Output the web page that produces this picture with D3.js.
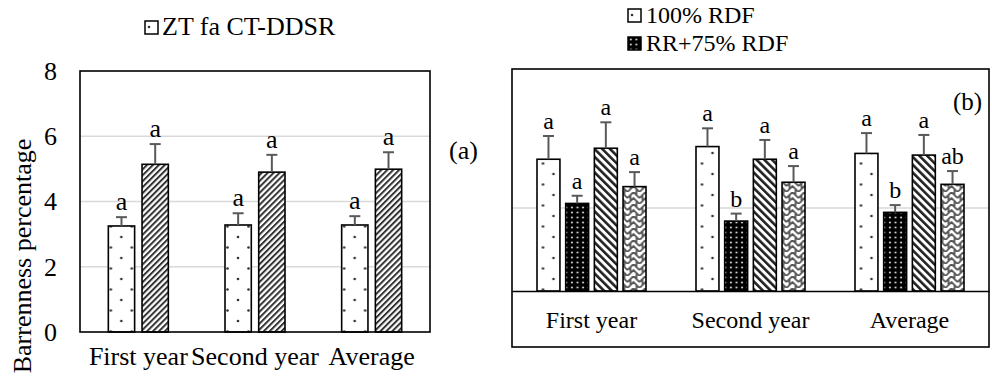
<!DOCTYPE html>
<html lang="en">
    <head>
        <meta charset="UTF-8" />
        <title>Barrenness</title>
        <script src="https://d3js.org/d3.v7.js"></script>
    </head>

    <body>
        <div id="dataviz"></div>
    </body>

    <script>
        // panel (a)
        const yearsA = ["First year", "Second year", "Average"];
        const valuesA = [[3.25, 5.14], [3.28, 4.90], [3.28, 4.99]];
        const errorsA = [[0.27, 0.62], [0.36, 0.53], [0.27, 0.52]];
        const lettersA = [["a", "a"], ["a", "a"], ["a", "a"]];
        const legendA = ["ZT fa CT-DDSR"];
        const ticksA = [0, 2, 4, 6, 8];

        // panel (b)
        const yearsB = ["First year", "Second year", "Average"];
        const valuesB = [[6.35, 4.22, 6.88, 5.03], [6.96, 3.37, 6.35, 5.24], [6.63, 3.79, 6.55, 5.14]];
        const errorsB = [[1.12, 0.37, 1.25, 0.70], [0.88, 0.36, 0.93, 0.78], [0.98, 0.35, 0.97, 0.64]];
        const lettersB = [["a", "a", "a", "a"], ["a", "b", "a", "a"], ["a", "b", "a", "ab"]];
        const legendB = ["100% RDF", "RR+75% RDF"];
        const gridB = [4];

        const font = "'Liberation Serif', 'Times New Roman', serif";

        const svg = d3.select("#dataviz")
            .append("svg")
            .attr("width", 992)
            .attr("height", 378)
            .style("font-family", font);

        svg.append("rect").attr("width", 992).attr("height", 378).attr("fill", "white");

        // fill patterns
        const defs = svg.append("defs");

        const pDots = defs.append("pattern").attr("id", "dots")
            .attr("patternUnits", "userSpaceOnUse").attr("width", 21).attr("height", 21);
        pDots.append("rect").attr("width", 21).attr("height", 21).attr("fill", "white");
        pDots.append("circle").attr("cx", 4).attr("cy", 6).attr("r", 1.3).attr("fill", "#333");
        pDots.append("circle").attr("cx", 14.5).attr("cy", 16.5).attr("r", 1.3).attr("fill", "#333");

        const pFwd = defs.append("pattern").attr("id", "fwd")
            .attr("patternUnits", "userSpaceOnUse").attr("width", 4.2).attr("height", 4.2)
            .attr("patternTransform", "rotate(45)");
        pFwd.append("rect").attr("width", 4.2).attr("height", 4.2).attr("fill", "white");
        pFwd.append("rect").attr("width", 2).attr("height", 4.2).attr("fill", "#333");

        const pBlack = defs.append("pattern").attr("id", "blackdots")
            .attr("patternUnits", "userSpaceOnUse").attr("width", 5.6).attr("height", 5);
        pBlack.append("rect").attr("width", 5.6).attr("height", 5).attr("fill", "black");
        pBlack.append("circle").attr("cx", 2.8).attr("cy", 2.5).attr("r", 1.1).attr("fill", "#ccc");

        const pBack = defs.append("pattern").attr("id", "back")
            .attr("patternUnits", "userSpaceOnUse").attr("width", 5.5).attr("height", 5.5)
            .attr("patternTransform", "rotate(-45)");
        pBack.append("rect").attr("width", 5.5).attr("height", 5.5).attr("fill", "white");
        pBack.append("rect").attr("width", 2.6).attr("height", 5.5).attr("fill", "#222");

        // herringbone-like weave
        const pZig = defs.append("pattern").attr("id", "zig")
            .attr("patternUnits", "userSpaceOnUse").attr("width", 12).attr("height", 12);
        pZig.append("rect").attr("width", 12).attr("height", 12).attr("fill", "white");
        pZig.append("path").attr("d", "M0,6 L6,0 L12,6 M0,12 L6,6 L12,12 M3,3 L3,9 M9,-3 L9,3 M9,9 L9,15")
            .attr("fill", "none").attr("stroke", "#555").attr("stroke-width", 1.8);

        const fillsA = ["url(#dots)", "url(#fwd)"];
        const fillsB = ["url(#dots)", "url(#blackdots)", "url(#back)", "url(#zig)"];

        function drawBars(g, years, values, errors, letters, fills, x, x1, y, fontSize) {
            const groups = g.selectAll(".grp")
                .data(years)
                .join("g")
                .attr("transform", d => `translate(${x(d) + x.bandwidth() / 2},0)`);

            groups.each(function(year, i) {
                const row = values[i].map((v, j) => ({ v: v, e: errors[i][j], l: letters[i][j], j: j }));
                const gg = d3.select(this);

                gg.selectAll("rect")
                    .data(row)
                    .join("rect")
                    .attr("x", d => x1(d.j))
                    .attr("y", d => y(d.v))
                    .attr("width", x1.bandwidth())
                    .attr("height", d => y(0) - y(d.v))
                    .attr("fill", d => fills[d.j])
                    .attr("stroke", "black")
                    .attr("stroke-width", 1.6);

                const eb = gg.selectAll(".err")
                    .data(row)
                    .join("g")
                    .attr("stroke", "#595959")
                    .attr("stroke-width", 2);
                eb.append("line")
                    .attr("x1", d => x1(d.j) + x1.bandwidth() / 2)
                    .attr("x2", d => x1(d.j) + x1.bandwidth() / 2)
                    .attr("y1", d => y(d.v))
                    .attr("y2", d => y(d.v + d.e));
                eb.append("line")
                    .attr("x1", d => x1(d.j) + x1.bandwidth() / 2 - 5.5)
                    .attr("x2", d => x1(d.j) + x1.bandwidth() / 2 + 5.5)
                    .attr("y1", d => y(d.v + d.e))
                    .attr("y2", d => y(d.v + d.e));

                gg.selectAll(".lbl")
                    .data(row)
                    .join("text")
                    .attr("x", d => x1(d.j) + x1.bandwidth() / 2)
                    .attr("y", d => y(d.v + d.e) - 7)
                    .attr("text-anchor", "middle")
                    .style("font-size", fontSize + "px")
                    .text(d => d.l);
            });
        }

        // ---------- panel (a) ----------
        const xA = d3.scaleBand().domain(yearsA).range([80, 430]);
        const x1A = d3.scaleBand().domain([0, 1]).range([-30, 30]).paddingInner(0.22);
        const yA = d3.scaleLinear().domain([0, 8]).range([332, 71]);

        const gA = svg.append("g");
        gA.selectAll(".grid")
            .data(ticksA.filter(t => t > 0 && t < 8))
            .join("line")
            .attr("x1", 80).attr("x2", 430)
            .attr("y1", d => yA(d)).attr("y2", d => yA(d))
            .attr("stroke", "#d9d9d9").attr("stroke-width", 1.5);

        const axA = gA.append("g")
            .attr("transform", "translate(80,0)")
            .call(d3.axisLeft(yA).tickValues(ticksA).tickSize(0).tickPadding(23));
        axA.select(".domain").remove();
        axA.selectAll("text").style("font-family", font).style("font-size", "26px").attr("fill", "black");

        const axXA = gA.append("g")
            .attr("transform", "translate(0,332)")
            .call(d3.axisBottom(xA).tickSize(0).tickPadding(15));
        axXA.select(".domain").remove();
        axXA.selectAll("text").style("font-family", font).style("font-size", "26px").attr("fill", "black");

        drawBars(gA, yearsA, valuesA, errorsA, lettersA, fillsA, xA, x1A, yA, 26);

        gA.append("rect")
            .attr("x", 80).attr("y", 71).attr("width", 350).attr("height", 261)
            .attr("fill", "none").attr("stroke", "black").attr("stroke-width", 1.6);

        gA.append("text")
            .attr("transform", "translate(31,256) rotate(-90)")
            .attr("text-anchor", "middle")
            .style("font-size", "26px")
            .text("Barrenness percentage");

        gA.append("text")
            .attr("x", 449).attr("y", 159)
            .style("font-size", "26px")
            .text("(a)");

        const legA = gA.selectAll(".leg")
            .data(legendA)
            .join("g")
            .attr("transform", (d, i) => `translate(145,${21 + i * 28})`);
        legA.append("rect").attr("width", 13).attr("height", 13)
            .attr("fill", (d, i) => fillsA[i]).attr("stroke", "black").attr("stroke-width", 1.5);
        legA.append("text").attr("x", 17).attr("y", 14)
            .style("font-size", "26px").text(d => d);

        // ---------- panel (b) ----------
        const xB = d3.scaleBand().domain(yearsB).range([512, 989]);
        const x1B = d3.scaleBand().domain([0, 1, 2, 3]).range([-54.5, 54.5]).paddingInner(0.2);
        const yB = d3.scaleLinear().domain([0, 8]).range([291, 125]);

        const gB = svg.append("g");
        gB.selectAll(".grid")
            .data(gridB)
            .join("line")
            .attr("x1", 512).attr("x2", 989)
            .attr("y1", d => yB(d)).attr("y2", d => yB(d))
            .attr("stroke", "#d9d9d9").attr("stroke-width", 1.5);

        drawBars(gB, yearsB, valuesB, errorsB, lettersB, fillsB, xB, x1B, yB, 24);

        const axXB = gB.append("g")
            .attr("transform", "translate(0,291)")
            .call(d3.axisBottom(xB).tickSize(0).tickPadding(20));
        axXB.select(".domain").attr("stroke-width", 1.6);
        axXB.selectAll("text").style("font-family", font).style("font-size", "24px").attr("fill", "black");

        gB.append("rect")
            .attr("x", 512).attr("y", 69).attr("width", 477).attr("height", 278)
            .attr("fill", "none").attr("stroke", "black").attr("stroke-width", 1.6);

        gB.append("text")
            .attr("x", 953).attr("y", 110)
            .style("font-size", "25px")
            .text("(b)");

        const legB = gB.selectAll(".leg")
            .data(legendB)
            .join("g")
            .attr("transform", (d, i) => `translate(628,${9 + i * 28})`);
        legB.append("rect").attr("width", 13).attr("height", 13)
            .attr("fill", (d, i) => fillsB[i]).attr("stroke", "black").attr("stroke-width", 1.5);
        legB.append("text").attr("x", 18).attr("y", 14)
            .style("font-size", "24px").text(d => d);
    </script>

    <style>
        body { margin: 0; }
        svg { display: block; }
    </style>
</html>
